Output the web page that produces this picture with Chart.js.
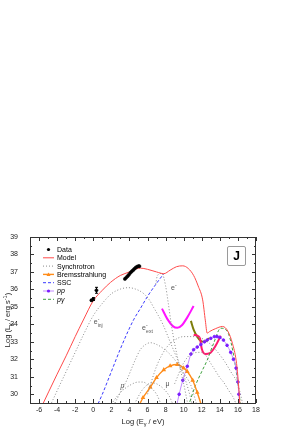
<!DOCTYPE html>
<html>
<head>
<meta charset="UTF-8">
<title>SED J</title>
<script src="https://cdn.jsdelivr.net/npm/chart.js"></script>
<style>
  html, body { margin: 0; padding: 0; background: #fff; }
</style>
</head>
<body>
<canvas id="grafica" width="287" height="433"></canvas>
<script>
// ejes
const xTicks = [-6, -4, -2, 0, 2, 4, 6, 8, 10, 12, 14, 16, 18];
const yTicks = [30, 31, 32, 33, 34, 35, 36, 37, 38, 39];

// datos observados
const dataX = [-0.2, 0.0, 0.35, 3.5, 3.65, 3.8, 3.95, 4.1, 4.25, 4.4, 4.55, 4.7, 4.85, 5.0, 5.1];
const dataY = [35.38, 35.45, 35.95, 36.6, 36.68, 36.76, 36.85, 36.95, 37.03, 37.1, 37.18, 37.25, 37.3, 37.33, 37.33];
const dataErr = [0.05, 0.08, 0.17, 0, 0, 0, 0, 0, 0, 0, 0, 0, 0, 0, 0];

// modelo total
const modelX = [-5.8, -4, -3, -2, -1.1, 0, 1, 1.9, 3, 4, 4.4, 5.2, 6, 7, 7.8, 8.5, 9.2, 9.9, 10.5, 11.1, 11.6, 12.1, 12.4, 12.6, 12.9, 13.5, 14.3, 14.9, 15.4, 15.8, 16.0, 16.25];
const modelY = [29.2, 31.15, 32.2, 33.3, 34.25, 35.35, 35.95, 36.4, 36.8, 37.0, 37.1, 37.22, 37.15, 37.0, 36.9, 37.1, 37.3, 37.35, 37.2, 36.8, 36.2, 35.4, 34.2, 33.5, 33.6, 33.75, 33.88, 33.6, 32.9, 31.95, 31.0, 29.2];

// sincrotron
const sInjX = [-4.9, -4, -3, -2, -1, 0, 1, 2, 3, 3.9, 5, 5.6, 6.2, 6.7, 7.2, 7.7, 8.5, 9.3, 10, 10.5, 11];
const sInjY = [29.2, 30.2, 31.3, 32.4, 33.5, 34.5, 35.2, 35.75, 36.02, 36.1, 35.95, 35.75, 35.4, 34.95, 34.5, 34.0, 33.0, 32.0, 31.1, 30.3, 29.3];
const sEmX = [6.9, 7.1, 7.6, 8.0, 8.3, 8.6, 9.0, 9.5, 10.0, 10.5];
const sEmY = [36.3, 36.8, 36.92, 36.2, 35.2, 34.1, 32.9, 31.7, 30.6, 29.3];
const sExtX = [2.1, 3, 3.7, 4.5, 5.2, 5.8, 6.3, 7, 7.8, 8.9, 10, 10.8, 11.5];
const sExtY = [29.2, 30.1, 30.8, 31.8, 32.55, 32.85, 32.95, 32.85, 32.6, 32.05, 31.2, 30.5, 29.3];
const sDomeX = [6.0, 7.0, 8.0, 9.0, 10.0, 11.0, 12.0, 13.0, 13.7, 14.5, 15.2, 16.0, 16.6];
const sDomeY = [30.0, 31.6, 32.6, 33.1, 33.3, 33.3, 33.2, 32.85, 32.45, 31.9, 31.3, 30.55, 29.3];
const sPairX = [9.0, 10.0, 11.0, 12.0, 13.2, 14.0, 14.4, 15.0, 15.5, 15.9];
const sPairY = [30.6, 31.8, 32.35, 32.4, 31.6, 30.95, 30.7, 30.2, 29.8, 29.3];
const sProtX = [1.8, 3, 4, 5, 5.5, 6.2, 7, 7.6];
const sProtY = [29.3, 30.1, 30.5, 30.7, 30.7, 30.45, 30.0, 29.3];
const sMuX = [4.4, 5.5, 6.5, 7.0, 7.8, 8.4, 8.9];
const sMuY = [29.3, 30.3, 30.65, 30.6, 30.3, 29.9, 29.3];

// bremsstrahlung, SSC, pp, p-gamma
const bremX = [5.0, 5.5, 6.3, 7.0, 7.8, 8.5, 9.3, 10.0, 10.4, 11.0, 11.5, 12.0];
const bremY = [29.3, 29.8, 30.4, 30.95, 31.4, 31.62, 31.7, 31.5, 31.3, 30.8, 30.1, 29.3];
const sscX = [0.3, 1, 2, 3, 3.93, 4.5, 5.2, 6, 7, 7.8];
const sscY = [29.2, 30.0, 31.3, 32.6, 33.7, 34.3, 34.9, 35.6, 36.35, 36.9];
const ppX = [9.2, 9.5, 9.9, 10.4, 10.8, 11.1, 11.5, 11.9, 12.3, 12.6, 13.0, 13.4, 13.7, 14.0, 14.4, 14.8, 15.2, 15.5, 15.8, 16.0, 16.1, 16.2];
const ppY = [29.3, 30.0, 30.8, 31.6, 32.3, 32.55, 32.7, 32.85, 33.0, 33.1, 33.2, 33.3, 33.3, 33.25, 33.1, 32.8, 32.4, 32.0, 31.5, 30.7, 30.0, 29.3];
const pgX = [10.5, 11.3, 12.0, 12.6, 13.3, 14.1, 14.5, 15.0, 15.5, 16.0, 16.3];
const pgY = [29.3, 30.5, 31.3, 31.95, 32.9, 33.78, 33.75, 33.4, 32.3, 30.6, 29.3];

// curvas de sensibilidad
const magX = [7.6, 8.2, 8.8, 9.3, 9.8, 10.4, 11.1];
const magY = [34.9, 34.3, 33.9, 33.8, 33.95, 34.4, 35.05];
const crX = [11.1, 11.5, 11.8, 12.0, 12.4, 12.9, 13.5, 14.1];
const crY = [33.4, 33.35, 33.2, 32.6, 32.3, 32.35, 32.75, 33.35];
const olX = [10.8, 11.1, 11.5, 11.9, 12.3, 12.8];
const olY = [34.2, 33.7, 33.3, 33.05, 33.0, 33.2];

const leyenda = ['Data', 'Model', 'Synchrotron', 'Bremsstrahlung', 'SSC', 'pp', 'pγ'];

const fuente = '"Liberation Sans", Arial, sans-serif';

function pares(xs, ys) {
  return xs.map((x, i) => ({ x: x, y: ys[i] }));
}

function curva(label, xs, ys, color, extra) {
  return Object.assign({
    label: label,
    data: pares(xs, ys),
    showLine: true,
    borderColor: color,
    backgroundColor: color,
    borderWidth: 1,
    pointRadius: 0,
    cubicInterpolationMode: 'monotone',
    fill: false
  }, extra || {});
}

const gris = '#8a8a8a';
const punteado = { borderDash: [1, 2] };

const datasets = [
  { label: 'Data', data: pares(dataX, dataY), showLine: false, pointRadius: 1.6, pointBorderWidth: 0.5, pointBackgroundColor: '#000', pointBorderColor: '#000', borderColor: '#000', backgroundColor: '#000' },
  curva('Model', modelX, modelY, '#ff4a4a'),
  curva('Synchrotron', sInjX, sInjY, gris, punteado),
  curva('', sEmX, sEmY, gris, punteado),
  curva('', sExtX, sExtY, gris, punteado),
  curva('', sDomeX, sDomeY, gris, punteado),
  curva('', sPairX, sPairY, gris, punteado),
  curva('', sProtX, sProtY, gris, punteado),
  curva('', sMuX, sMuY, gris, punteado),
  curva('Bremsstrahlung', bremX, bremY, '#ff8c1a', { borderWidth: 1.4, pointRadius: 1.3, pointStyle: 'triangle', pointBackgroundColor: '#ff8c1a' }),
  curva('SSC', sscX, sscY, '#3a3aff', { borderDash: [3, 2] }),
  curva('pp', ppX, ppY, '#c38cff', { pointRadius: 1.3, pointBackgroundColor: '#7a1cff', pointBorderColor: '#7a1cff' }),
  curva('pγ', pgX, pgY, '#3ca03c', { borderDash: [3, 2] }),
  curva('', magX, magY, '#ff14ff', { borderWidth: 2 }),
  curva('', crX, crY, '#ff1a6e', { borderWidth: 2 }),
  curva('', olX, olY, '#7d7d0a', { borderWidth: 2 })
];

// textos sobre las curvas: [x, y, base, super, sub, cursiva]
const etiquetas = [
  [0.05, 34.0, 'e', '-', 'inj', false],
  [5.4, 33.65, 'e', '-', 'ext', false],
  [8.6, 35.95, 'e', '-', '', false],
  [3.0, 30.35, 'p', '', '', true],
  [8.0, 30.45, 'μ', '', '', false]
];

function texto(ctx, partes, x, y, centrado) {
  let ancho = 0;
  partes.forEach(p => { ctx.font = p.f; ancho += ctx.measureText(p.t).width; });
  let cx = centrado ? x - ancho / 2 : x;
  partes.forEach(p => {
    ctx.font = p.f;
    ctx.fillText(p.t, cx, y + (p.dy || 0));
    cx += ctx.measureText(p.t).width;
  });
}

const marcos = {
  id: 'marcos',
  afterDatasetsDraw(chart) {
    const { ctx, chartArea: a, scales: { x, y } } = chart;
    ctx.save();

    // barras de error
    ctx.strokeStyle = '#000';
    ctx.lineWidth = 1;
    dataX.forEach((v, i) => {
      if (!dataErr[i]) return;
      const px = Math.round(x.getPixelForValue(v)) + 0.5;
      const y1 = y.getPixelForValue(dataY[i] + dataErr[i]);
      const y2 = y.getPixelForValue(dataY[i] - dataErr[i]);
      ctx.beginPath();
      ctx.moveTo(px, y1); ctx.lineTo(px, y2);
      ctx.moveTo(px - 1.5, y1); ctx.lineTo(px + 1.5, y1);
      ctx.moveTo(px - 1.5, y2); ctx.lineTo(px + 1.5, y2);
      ctx.stroke();
    });

    // marco y marcas hacia dentro
    ctx.strokeStyle = '#333';
    ctx.strokeRect(a.left + 0.5, a.top + 0.5, a.right - a.left - 1, a.bottom - a.top);
    ctx.beginPath();
    for (let v = -7; v <= 18; v += 1) {
      const px = Math.round(x.getPixelForValue(v)) + 0.5;
      const l = (v % 2 === 0) ? 4 : 2;
      ctx.moveTo(px, a.bottom); ctx.lineTo(px, a.bottom - l);
      ctx.moveTo(px, a.top); ctx.lineTo(px, a.top + l);
    }
    for (let v = 29.5; v <= 39; v += 0.5) {
      const py = Math.round(y.getPixelForValue(v)) + 0.5;
      const l = (v % 1 === 0) ? 4 : 2;
      ctx.moveTo(a.left, py); ctx.lineTo(a.left + l, py);
      ctx.moveTo(a.right, py); ctx.lineTo(a.right - l, py);
    }
    ctx.stroke();

    // leyenda
    const items = leyenda.map(t => chart.data.datasets.find(d => d.label === t));
    items.forEach((d, i) => {
      const ly = a.top + 12.5 + i * 8.3;
      const x0 = a.left + 13, x1 = a.left + 24, xm = (x0 + x1) / 2;
      if (d.showLine) {
        ctx.strokeStyle = d.borderColor;
        ctx.lineWidth = d.borderWidth;
        ctx.setLineDash(d.borderDash || []);
        ctx.beginPath(); ctx.moveTo(x0, ly); ctx.lineTo(x1, ly); ctx.stroke();
        ctx.setLineDash([]);
      }
      if (d.pointRadius) {
        ctx.fillStyle = d.pointBackgroundColor || d.borderColor;
        ctx.beginPath();
        if (d.pointStyle === 'triangle') {
          ctx.moveTo(xm, ly - 2); ctx.lineTo(xm + 2, ly + 1.5); ctx.lineTo(xm - 2, ly + 1.5);
        } else {
          ctx.arc(xm, ly, 1.6, 0, Math.PI * 2);
        }
        ctx.fill();
      }
      ctx.fillStyle = '#000';
      ctx.textBaseline = 'middle';
      ctx.textAlign = 'left';
      const it = (d.label === 'pp' || d.label === 'pγ') ? 'italic ' : '';
      ctx.font = it + '7px ' + fuente;
      ctx.fillText(d.label, a.left + 27, ly + 0.5);
    });

    // recuadro J
    const bx = a.right - 28.5, by = a.top + 9.5;
    ctx.strokeStyle = '#9a9a9a';
    ctx.lineWidth = 1;
    ctx.beginPath();
    ctx.roundRect(bx, by, 18, 19, 1.5);
    ctx.stroke();
    ctx.fillStyle = '#000';
    ctx.font = 'bold 12px ' + fuente;
    ctx.textAlign = 'center';
    ctx.textBaseline = 'middle';
    ctx.fillText('J', bx + 9, by + 10);

    // etiquetas de curvas
    ctx.fillStyle = '#555';
    ctx.textAlign = 'left';
    ctx.textBaseline = 'alphabetic';
    etiquetas.forEach(e => {
      const px = x.getPixelForValue(e[0]);
      const py = y.getPixelForValue(e[1]);
      const partes = [{ t: e[2], f: (e[5] ? 'italic ' : '') + '7px ' + fuente }];
      if (e[3]) partes.push({ t: e[3], f: '5px ' + fuente, dy: -3.5 });
      texto(ctx, partes, px, py, false);
      if (e[4]) {
        ctx.font = '5px ' + fuente;
        ctx.fillText(e[4], px + 4, py + 2.5);
      }
    });

    // titulos de ejes
    ctx.fillStyle = '#222';
    ctx.textBaseline = 'alphabetic';
    const f = '7.5px ' + fuente, fs = '5.5px ' + fuente;
    texto(ctx, [
      { t: 'Log (E', f: f }, { t: 'γ', f: fs, dy: 2 }, { t: ' / eV)', f: f }
    ], (a.left + a.right) / 2, a.bottom + 20.5, true);
    ctx.translate(9.5, (a.top + a.bottom) / 2);
    ctx.rotate(-Math.PI / 2);
    texto(ctx, [
      { t: 'Log (L', f: f }, { t: 'γ', f: fs, dy: 2 }, { t: ' / erg s', f: f }, { t: '-1', f: fs, dy: -3 }, { t: ')', f: f }
    ], 0, 0, true);
    ctx.restore();
  }
};

new Chart(document.getElementById('grafica').getContext('2d'), {
  type: 'scatter',
  data: { datasets: datasets },
  options: {
    responsive: false,
    animation: false,
    events: [],
    layout: { padding: { left: 0, right: 31, top: 237, bottom: 0 } },
    plugins: { legend: { display: false }, tooltip: { enabled: false } },
    scales: {
      x: {
        type: 'linear', min: -7, max: 18,
        grid: { display: false, drawTicks: false },
        border: { display: false },
        ticks: { font: { size: 7, family: fuente }, color: '#222', padding: 3, autoSkip: false, maxRotation: 0 },
        afterBuildTicks: s => { s.ticks = xTicks.map(v => ({ value: v })); },
        afterFit: s => { s.height = 30; }
      },
      y: {
        type: 'linear', min: 29.5, max: 39,
        grid: { display: false, drawTicks: false },
        border: { display: false },
        ticks: { font: { size: 7, family: fuente }, color: '#222', padding: 12, autoSkip: false },
        afterBuildTicks: s => { s.ticks = yTicks.map(v => ({ value: v })); },
        afterFit: s => { s.width = 30; }
      }
    }
  },
  plugins: [marcos]
});
</script>
</body>
</html>
